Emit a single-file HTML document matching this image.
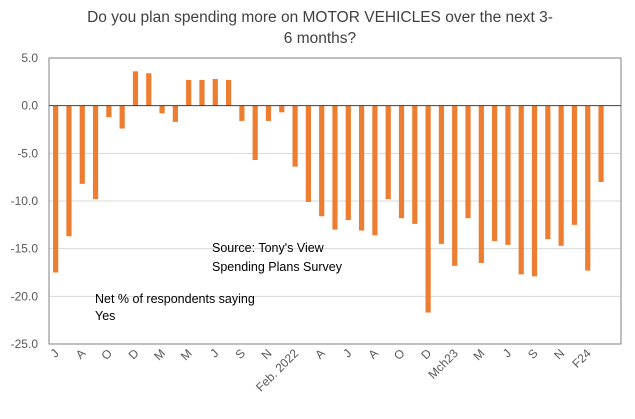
<!DOCTYPE html>
<html><head><meta charset="utf-8"><style>
body{margin:0;background:#fff;font-family:"Liberation Sans",Arial,sans-serif}
svg text{font-family:"Liberation Sans",Arial,sans-serif}
</style></head><body>
<svg id="chart" width="635" height="414">
<text x="320" y="22" text-anchor="middle" font-size="15.5" fill="#404040">Do you plan spending more on MOTOR VEHICLES over the next 3-</text>
<text x="320" y="43" text-anchor="middle" font-size="15.5" fill="#404040">6 months?</text>
<g id="grid"></g><g id="bars"></g><g id="axes"></g>
<text x="212" y="252" font-size="12.5" fill="#000">Source: Tony's View</text>
<text x="212" y="271" font-size="12.5" fill="#000">Spending Plans Survey</text>
<text x="95" y="303" font-size="12.5" fill="#000">Net % of respondents saying</text>
<text x="95" y="320" font-size="12.5" fill="#000">Yes</text>
</svg>
<script>
const values=[-17.5,-13.7,-8.2,-9.8,-1.2,-2.4,3.6,3.4,-0.8,-1.7,2.7,2.7,2.8,2.7,-1.6,-5.7,-1.6,-0.7,-6.4,-10.1,-11.6,-13.0,-12.0,-13.1,-13.6,-9.8,-11.8,-12.4,-21.7,-14.5,-16.8,-11.8,-16.5,-14.2,-14.6,-17.7,-17.9,-14.0,-14.7,-12.5,-17.3,-8.0];
const xLabels=["J","A","O","D","M","M","J","S","N","Feb. 2022","A","J","A","O","D","Mch23","M","J","S","N","F24"];
const yTicks=[5,0,-5,-10,-15,-20,-25];
const nCats=43;
const L=49,R=621,T=58,B=344,yMax=5,yMin=-25;
const ns="http://www.w3.org/2000/svg";
const y=v=>T+(yMax-v)/(yMax-yMin)*(B-T);
const bw=(R-L)/nCats;
const x=i=>L+bw*(i+0.5);
function mk(t,a,p){const e=document.createElementNS(ns,t);for(const k in a)e.setAttribute(k,a[k]);p.appendChild(e);return e;}
const g=document.getElementById('grid'),b=document.getElementById('bars'),ax=document.getElementById('axes');
yTicks.forEach(v=>{
 if(v!==0&&v!==yMin&&v!==yMax){const l=mk('line',{x1:L,x2:R,y1:y(v),y2:y(v),stroke:'#d9d9d9','stroke-width':1},g);
 
 }
 const t=mk('text',{x:38,y:y(v)+4,'text-anchor':'end','font-size':12,fill:'#595959'},ax);t.textContent=v.toFixed(1);
 
 
});
values.forEach((v,i)=>{
 const r=mk('rect',{x:x(i)-2.6,width:5.2,y:Math.min(y(v),y(0)),height:Math.abs(y(v)-y(0)),fill:'#ed7d31'},b);
 
 
});
const fr=mk('rect',{x:L,y:T,width:R-L,height:B-T,fill:'none',stroke:'#808080','stroke-width':1},ax);


const z=mk('line',{x1:L,x2:R,y1:y(0),y2:y(0),stroke:'#404040','stroke-width':1},ax);


xLabels.forEach((s,k)=>{
 const cx=x(k*2)+4,cy=B+10;
 const t=mk('text',{x:cx,y:cy,'text-anchor':'end','font-size':12,fill:'#595959',transform:`rotate(-45 ${cx} ${cy})`},ax);
 t.textContent=s;
 
 
});
</script>
</body></html>
